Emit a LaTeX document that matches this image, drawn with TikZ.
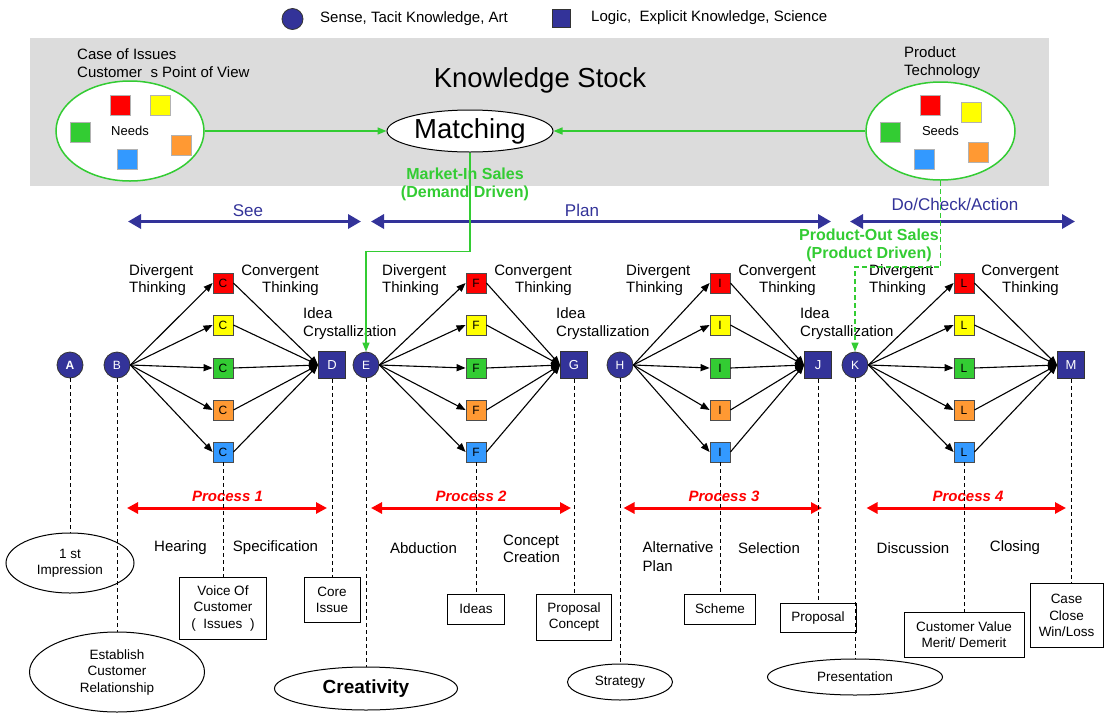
\documentclass[tikz,border=0pt]{standalone}
\usepackage{fontspec}
\setmainfont{Liberation Sans}
\usetikzlibrary{arrows.meta,shapes.geometric}
\definecolor{navy}{HTML}{333399}
\definecolor{gbox}{HTML}{DCDCDC}
\definecolor{lgreen}{HTML}{33CC33}
\definecolor{cred}{HTML}{FF0000}
\definecolor{cyel}{HTML}{FFFF00}
\definecolor{cgrn}{HTML}{33CC33}
\definecolor{corg}{HTML}{FF9933}
\definecolor{cblu}{HTML}{3399FF}
\begin{document}
\begin{tikzpicture}[x=1pt,y=-1pt,
  txt/.style={inner sep=0pt, font=\fontsize{15}{17}\selectfont},
  circ/.style={circle, fill=navy, draw=black!80, line width=0.8pt, minimum size=26pt, inner sep=0pt, text=white, font=\fontsize{12}{12}\selectfont},
  sq/.style={rectangle, fill=navy, draw=black!80, line width=0.8pt, minimum size=27pt, inner sep=0pt, text=white, font=\fontsize{13}{13}\selectfont},
  cb/.style={rectangle, draw=black!70, line width=0.8pt, minimum size=20pt, inner sep=0pt, font=\fontsize{12}{12}\selectfont},
  ks/.style={rectangle, draw=gray!60, line width=0.8pt, minimum size=20pt, inner sep=0pt},
  lbox/.style={rectangle, draw=black, line width=1pt, inner sep=0pt, align=center, font=\fontsize{13.5}{16.5}\selectfont},
  lell/.style={ellipse, draw=black, line width=1pt, inner sep=0pt, align=center, font=\fontsize{13.5}{16.5}\selectfont},
  darr/.style={draw=navy, line width=3.5pt, {Triangle[length=13pt,width=14pt]}-{Triangle[length=13pt,width=14pt]}},
  parr/.style={draw=red, line width=3pt, {Triangle[length=11pt,width=11pt]}-{Triangle[length=11pt,width=11pt]}},
  barr/.style={draw=black, line width=1.1pt, -{Triangle[length=9pt,width=7pt]}},
  garr/.style={draw=lgreen, line width=1.5pt, -{Triangle[length=9pt,width=7pt]}},
  vdash/.style={draw=black, line width=0.9pt, dash pattern=on 4pt off 3pt},
  ptxt/.style={inner sep=0pt, text=red, font=\fontsize{15}{17}\selectfont\bfseries\itshape},
  gtxt/.style={inner sep=0pt, text=lgreen, align=center, font=\fontsize{16}{17.5}\selectfont\bfseries},
  htxt/.style={inner sep=0pt, text=navy, font=\fontsize{17}{17}\selectfont}
]
\useasboundingbox (0,0) rectangle (1104,713);
\fill[white] (0,0) rectangle (1104,713);

% legend
\node[circ, minimum size=21pt] (lc) at (292.5,19) {};
\node[txt, anchor=west] (lct) at (320,19) {Sense, Tacit Knowledge, Art};
\node[sq, minimum size=18pt] (ls) at (561.5,18) {};
\node[txt, anchor=west] (lst) at (591,18) {Logic,\ \ Explicit Knowledge, Science};

% knowledge stock
\fill[gbox] (30,38) rectangle (1049,186);
\node[inner sep=0pt, font=\fontsize{27.5}{28}\selectfont] (ksT) at (540,80) {Knowledge Stock};
\node[txt, anchor=west, align=left, font=\fontsize{15}{18}\selectfont] (coi) at (77,63) {Case of Issues\\Customer\ \ s Point of View};
\node[txt, anchor=west, align=left, font=\fontsize{15}{18}\selectfont] (pt) at (904,63) {Product\\Technology};
\node[ellipse, draw=lgreen, fill=white, line width=1.5pt, minimum width=148pt, minimum height=100pt, inner sep=0pt, font=\fontsize{13}{13}\selectfont] (needs) at (130,131) {Needs};
\node[ellipse, draw=lgreen, fill=white, line width=1.5pt, minimum width=149pt, minimum height=98pt, inner sep=0pt, font=\fontsize{13}{13}\selectfont] (seeds) at (940.5,131) {Seeds};
\node[ks, fill=cred] (n1) at (120,105) {};
\node[ks, fill=cyel] (n2) at (160.5,105) {};
\node[ks, fill=cgrn] (n3) at (80,132) {};
\node[ks, fill=corg] (n4) at (181,145) {};
\node[ks, fill=cblu] (n5) at (127,159) {};
\node[ks, fill=cred] (s1) at (930.5,105) {};
\node[ks, fill=cyel] (s2) at (971,112) {};
\node[ks, fill=cgrn] (s3) at (890,132) {};
\node[ks, fill=corg] (s4) at (978,152) {};
\node[ks, fill=cblu] (s5) at (924,159) {};
\node[ellipse, draw=black, fill=white, line width=1pt, minimum width=166pt, minimum height=42pt, inner sep=0pt, font=\fontsize{27.5}{28}\selectfont] (match) at (470,131) {Matching};
\draw[garr] (needs.east) -- (match.west);
\draw[garr] (seeds.west) -- (match.east);

% phase arrows
\coordinate (see1) at (128,221.5); \coordinate (see2) at (361,221.5);
\coordinate (plan1) at (371,221.5); \coordinate (plan2) at (831,221.5);
\coordinate (dca1) at (850,221.5); \coordinate (dca2) at (1075,221.5);
\draw[darr] (see1) -- (see2);
\draw[darr] (plan1) -- (plan2);
\draw[darr] (dca1) -- (dca2);
\node[htxt] (seeT) at (248,211) {See};
\node[htxt] (planT) at (582,210) {Plan};
\node[htxt] (dcaT) at (955,204) {Do/Check/Action};

% main nodes
\node[circ, font=\fontsize{12}{12}\selectfont\bfseries] (nA) at (70,365) {A};
\node[circ] (nB) at (117,365) {B};
\node[sq] (nD) at (332,365) {D};
\node[circ] (nE) at (366,365) {E};
\node[sq] (nG) at (574,365) {G};
\node[circ] (nH) at (620,365) {H};
\node[sq] (nJ) at (818,365) {J};
\node[circ] (nK) at (855,365) {K};
\node[sq] (nM) at (1071,365) {M};

\foreach \g/\cx/\L in {1/223/C, 2/476/F, 3/720/I, 4/964/L} {
  \foreach \r/\y/\col in {1/283/cred, 2/325/cyel, 3/368/cgrn, 4/410/corg, 5/452/cblu} {
    \node[cb, fill=\col] (b\g\r) at (\cx,\y) {\L};
  }
}
\foreach \g/\s/\t in {1/nB/nD, 2/nE/nG, 3/nH/nJ, 4/nK/nM} {
  \foreach \r in {1,...,5} {
    \draw[barr] (\s.east) -- (b\g\r.west);
    \draw[barr] (b\g\r.east) -- (\t.west);
  }
}

% thinking labels
\node[txt, anchor=west, align=left] (dv1) at (129,280.5) {Divergent\\Thinking};
\node[txt, anchor=east, align=right] (cv1) at (319,280.5) {Convergent\\Thinking};
\node[txt, anchor=west, align=left] (dv2) at (382,280.5) {Divergent\\Thinking};
\node[txt, anchor=east, align=right] (cv2) at (572,280.5) {Convergent\\Thinking};
\node[txt, anchor=west, align=left] (dv3) at (626,280.5) {Divergent\\Thinking};
\node[txt, anchor=east, align=right] (cv3) at (816,280.5) {Convergent\\Thinking};
\node[txt, anchor=west, align=left] (dv4) at (869,280.5) {Divergent\\Thinking};
\node[txt, anchor=east, align=right] (cv4) at (1059,280.5) {Convergent\\Thinking};
\node[txt, anchor=west, align=left, font=\fontsize{15}{18}\selectfont] (id1) at (303,324) {Idea\\Crystallization};
\node[txt, anchor=west, align=left, font=\fontsize{15}{18}\selectfont] (id2) at (556,324) {Idea\\Crystallization};
\node[txt, anchor=west, align=left, font=\fontsize{15}{18}\selectfont] (id3) at (800,324) {Idea\\Crystallization};

% green sales paths
\draw[garr] (match.south) -- ++(0,99) -| (nE.north);
\draw[garr, dash pattern=on 5pt off 3pt] (seeds.south) -- ++(0,86) -| (nK.north);
\node[gtxt] (mis) at (465,184.5) {Market-In Sales\\(Demand Driven)};
\node[gtxt] (pos) at (869,245.5) {Product-Out Sales\\(Product Driven)};

% process arrows
\coordinate (p1a) at (127,508); \coordinate (p1b) at (327,508);
\coordinate (p2a) at (371,508); \coordinate (p2b) at (571,508);
\coordinate (p3a) at (623.5,508); \coordinate (p3b) at (822,508);
\coordinate (p4a) at (866.5,508); \coordinate (p4b) at (1066,508);
\draw[parr] (p1a) -- (p1b);
\draw[parr] (p2a) -- (p2b);
\draw[parr] (p3a) -- (p3b);
\draw[parr] (p4a) -- (p4b);
\node[ptxt] (pr1) at (227.5,496) {Process 1};
\node[ptxt] (pr2) at (471,496) {Process 2};
\node[ptxt] (pr3) at (724,496) {Process 3};
\node[ptxt] (pr4) at (968,496) {Process 4};

% activity labels
\node[txt] (hear) at (180.5,548) {Hearing};
\node[txt] (spec) at (275.5,548) {Specification};
\node[txt] (abd) at (423.5,548) {Abduction};
\node[txt, anchor=west, align=left] (ccr) at (503,549) {Concept\\Creation};
\node[txt, anchor=west, align=left, font=\fontsize{15}{19}\selectfont] (alt) at (642.5,557) {Alternative\\Plan};
\node[txt] (sel) at (769,548) {Selection};
\node[txt] (disc) at (913,548) {Discussion};
\node[txt] (clos) at (1015,548) {Closing};

% bottom boxes
\node[lbox, minimum width=87.4pt, minimum height=62pt] (voc) at (223,608) {Voice Of\\Customer\\(\ \ Issues\ \ )};
\node[lbox, minimum width=56pt, minimum height=45.7pt] (core) at (332,600) {Core\\Issue};
\node[lbox, minimum width=57pt, minimum height=30pt] (ideas) at (476,609) {Ideas};
\node[lbox, minimum width=75.3pt, minimum height=46pt] (pc) at (574,617) {Proposal\\Concept};
\node[lbox, minimum width=71.5pt, minimum height=30pt] (scheme) at (720,609) {Scheme};
\node[lbox, minimum width=76pt, minimum height=29.7pt] (prop) at (818,618) {Proposal};
\node[lbox, minimum width=120pt, minimum height=45pt] (cvm) at (964,634.5) {Customer Value\\Merit/ Demerit};
\node[lbox, minimum width=73pt, minimum height=64.7pt] (case) at (1066.5,615.4) {Case\\Close\\Win/Loss};

% bottom ellipses
\node[lell, minimum width=128pt, minimum height=60pt] (imp) at (70,563) {1 st\\Impression};
\node[lell, minimum width=175pt, minimum height=80pt] (est) at (117,672) {Establish\\Customer\\Relationship};
\node[lell, minimum width=183pt, minimum height=43pt, font=\fontsize{19}{20}\selectfont\bfseries] (crea) at (366,688.5) {Creativity};
\node[lell, minimum width=105pt, minimum height=36pt] (strat) at (620,682) {Strategy};
\node[lell, minimum width=175pt, minimum height=36pt] (pres) at (855,677) {Presentation};

% dashed drop lines
\draw[vdash] (nA.south) -- (imp.north);
\draw[vdash] (nB.south) -- (est.north);
\draw[vdash] (b15.south) -- (voc.north);
\draw[vdash] (nD.south) -- (core.north);
\draw[vdash] (nE.south) -- (crea.north);
\draw[vdash] (b25.south) -- (ideas.north);
\draw[vdash] (nG.south) -- (pc.north);
\draw[vdash] (nH.south) -- (strat.north);
\draw[vdash] (b35.south) -- (scheme.north);
\draw[vdash] (nJ.south) -- (prop.north);
\draw[vdash] (nK.south) -- (pres.north);
\draw[vdash] (b45.south) -- (cvm.north);
\draw[vdash] (nM.south) -- (nM.south |- case.north);
\end{tikzpicture}
\end{document}
